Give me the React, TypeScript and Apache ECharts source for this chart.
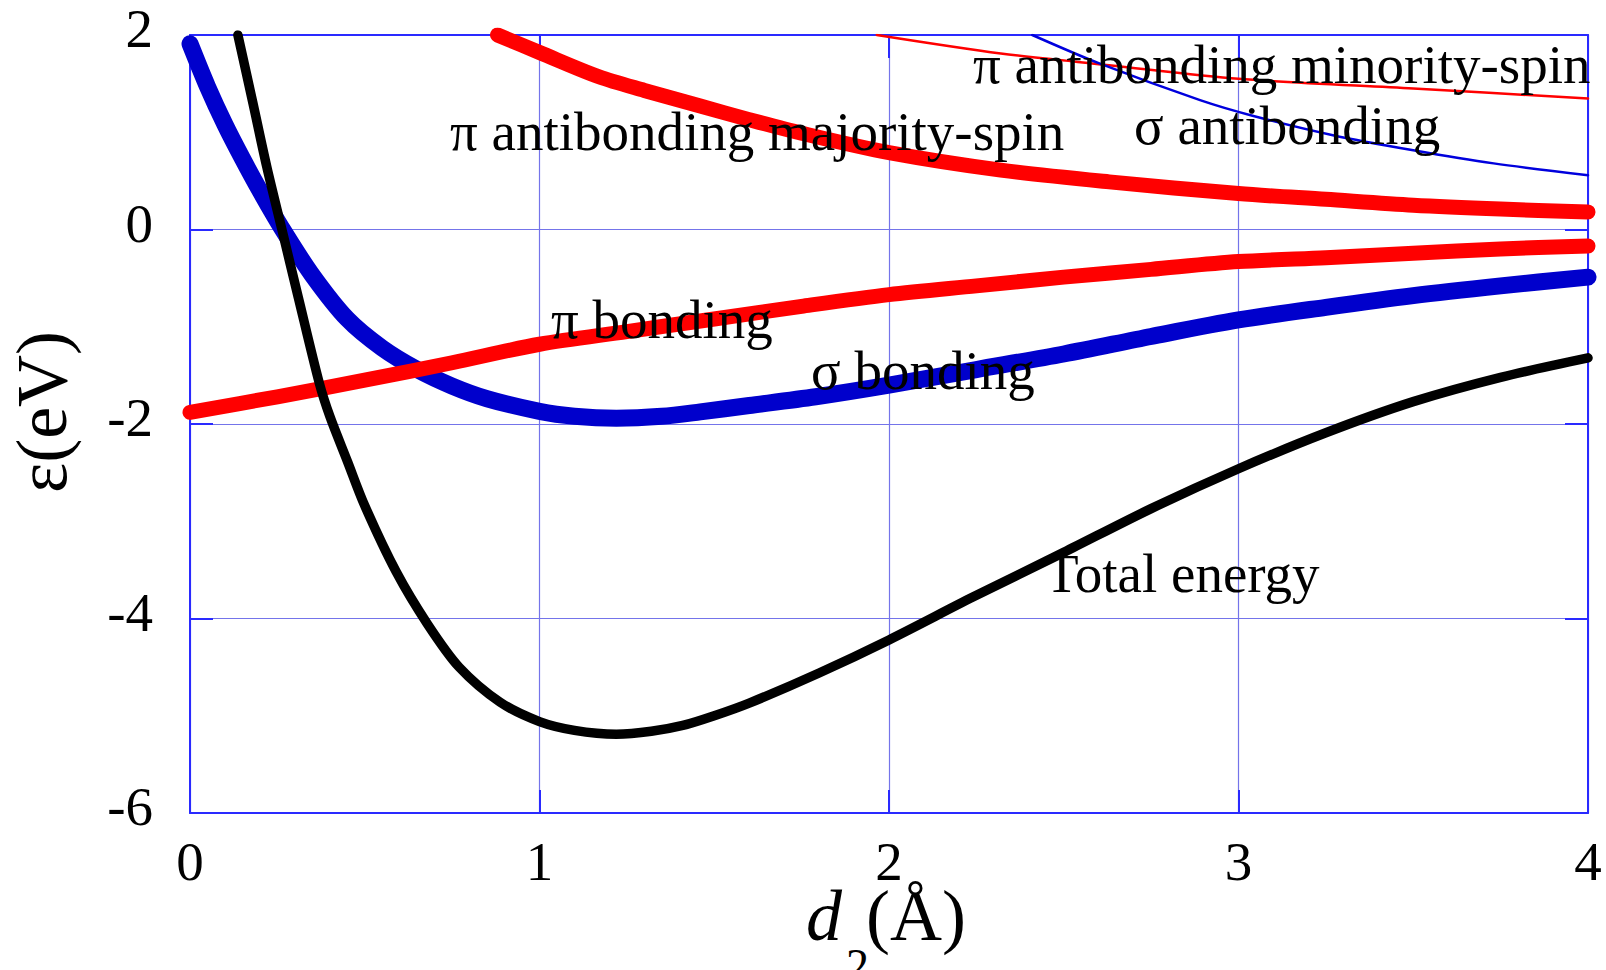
import React, { useEffect, useRef } from "react";
import * as echarts from "echarts";

// ---- data (d2 in Å, energies in eV) ----
const xTicks = [0, 1, 2, 3, 4];
const yTicks = [-6, -4, -2, 0, 2];

const sigmaBondingX = [0, 0.05, 0.1, 0.15, 0.2, 0.265, 0.35, 0.45, 0.55, 0.65, 0.75, 0.85, 1.0, 1.1, 1.22, 1.35, 1.46, 1.6, 1.79, 2.0, 2.25, 2.5, 2.75, 3.0, 3.25, 3.5, 3.75, 4.0];
const sigmaBondingY = [1.91, 1.47, 1.08, 0.73, 0.4, 0.0, -0.47, -0.92, -1.22, -1.44, -1.61, -1.74, -1.87, -1.92, -1.94, -1.92, -1.875, -1.81, -1.72, -1.6, -1.44, -1.28, -1.1, -0.93, -0.8, -0.68, -0.58, -0.49];

const piBondingX = [0, 0.25, 0.5, 0.75, 1.0, 1.25, 1.5, 1.75, 2.0, 2.25, 2.5, 2.75, 3.0, 3.25, 3.5, 3.75, 4.0];
const piBondingY = [-1.88, -1.72, -1.55, -1.37, -1.18, -1.05, -0.92, -0.79, -0.67, -0.58, -0.49, -0.41, -0.33, -0.29, -0.245, -0.2, -0.17];

const piAntiMajorityX = [0.88, 1.0, 1.17, 1.3, 1.46, 1.6, 1.75, 2.0, 2.32, 2.63, 3.0, 3.25, 3.5, 3.75, 4.0];
const piAntiMajorityY = [2.0, 1.82, 1.57, 1.43, 1.27, 1.13, 0.99, 0.79, 0.61, 0.49, 0.37, 0.31, 0.25, 0.21, 0.18];

const piAntiMinorityX = [1.965, 2.32, 2.63, 3.0, 3.5, 4.0];
const piAntiMinorityY = [2.0, 1.81, 1.69, 1.55, 1.45, 1.347];

const sigmaAntiX = [2.41, 2.6, 2.89, 3.04, 3.27, 3.5, 3.73, 4.0];
const sigmaAntiY = [2.0, 1.71, 1.33, 1.17, 0.97, 0.815, 0.68, 0.558];

const totalEnergyX = [0.137, 0.18, 0.22, 0.263, 0.31, 0.37, 0.4, 0.45, 0.5, 0.59, 0.68, 0.77, 0.887, 1.0, 1.1, 1.22, 1.32, 1.41, 1.5, 1.6, 1.8, 2.0, 2.24, 2.5, 2.75, 3.0, 3.25, 3.5, 3.75, 4.0];
const totalEnergyY = [2.0, 1.3, 0.64, 0.0, -0.7, -1.58, -1.92, -2.38, -2.84, -3.52, -4.06, -4.5, -4.86, -5.06, -5.15, -5.19, -5.16, -5.1, -5.0, -4.87, -4.56, -4.22, -3.78, -3.32, -2.87, -2.46, -2.09, -1.77, -1.52, -1.32];

const curveLabels = [
  "π antibonding minority-spin",
  "σ antibonding",
  "π antibonding majority-spin",
  "π bonding",
  "σ bonding",
  "Total energy",
];

const zip = (xs: number[], ys: number[]) => xs.map((x, i) => [x, ys[i]]);

const FONT = "Liberation Serif";
const FRAME = "#2a2aff";
const GRIDC = "#7474ea";

function lineSeries(name: string, xs: number[], ys: number[], color: string, width: number, z: number) {
  return {
    name,
    type: "line",
    data: zip(xs, ys),
    showSymbol: false,
    symbol: "none",
    smooth: 0.3,
    z,
    lineStyle: { color, width, cap: "round", join: "round" },
  };
}

function frameAxis(pos: string, isX: boolean, primary: boolean) {
  const base: any = {
    type: "value",
    position: pos,
    min: isX ? xTicks[0] : yTicks[0],
    max: isX ? xTicks[xTicks.length - 1] : yTicks[yTicks.length - 1],
    interval: isX ? 1 : 2,
    axisLine: { show: true, onZero: false, lineStyle: { color: FRAME, width: 2 } },
    axisTick: { show: true, inside: true, length: 23, lineStyle: { color: FRAME, width: 2 } },
    splitLine: { show: primary, lineStyle: { color: GRIDC, width: 1.2 } },
    axisLabel: { show: false },
  };
  if (primary) {
    base.axisLabel = isX
      ? { show: true, margin: 21, color: "#000", fontFamily: FONT, fontSize: 55, showMinLabel: true, showMaxLabel: true }
      : { show: true, margin: 37, color: "#000", fontFamily: FONT, fontSize: 55, verticalAlign: "bottom", lineHeight: 13, showMinLabel: true, showMaxLabel: true };
  }
  return base;
}

function txt(text: string, x: number, y: number, size: number, extra: any = {}) {
  return {
    type: "text",
    x,
    y,
    z: 100,
    silent: true,
    ...extra,
    style: {
      text,
      fill: "#000",
      fontFamily: FONT,
      fontSize: size,
      fontStyle: extra.fontStyle || "normal",
      align: extra.align || "left",
      textAlign: extra.align || "left",
      verticalAlign: "middle",
      textVerticalAlign: "middle",
    },
  };
}

export default function App() {
  const ref = useRef<HTMLDivElement>(null);
  useEffect(() => {
    document.body.style.margin = "0";
    const chart = echarts.init(ref.current!, null, { renderer: "svg" });
    const option: any = {
      animation: false,
      backgroundColor: "#fff",
      grid: { left: 190, top: 35, right: 18, bottom: 157, containLabel: false },
      xAxis: [frameAxis("bottom", true, true), frameAxis("top", true, false)],
      yAxis: [frameAxis("left", false, true), frameAxis("right", false, false)],
      series: [
        lineSeries("σ bonding", sigmaBondingX, sigmaBondingY, "#0000cc", 17, 2),
        lineSeries("π bonding", piBondingX, piBondingY, "#ff0000", 15, 3),
        lineSeries("π antibonding majority-spin", piAntiMajorityX, piAntiMajorityY, "#ff0000", 15, 3),
        lineSeries("π antibonding minority-spin", piAntiMinorityX, piAntiMinorityY, "#ff0000", 2.5, 4),
        lineSeries("σ antibonding", sigmaAntiX, sigmaAntiY, "#0000dd", 2.5, 4),
        lineSeries("Total energy", totalEnergyX, totalEnergyY, "#000000", 9.5, 5),
      ],
      graphic: [
        txt(curveLabels[0], 973, 82 - 18, 55),
        txt(curveLabels[1], 1134, 143 - 18, 55),
        txt(curveLabels[2], 450, 149 - 18, 55),
        txt(curveLabels[3], 551, 337 - 18, 55),
        txt(curveLabels[4], 811, 388 - 18, 55),
        txt(curveLabels[5], 1045, 591 - 18, 55),
        txt("ε(eV)", 42, 412, 72, { rotation: Math.PI / 2, align: "center" }),
        txt("d", 806, 916, 72, { fontStyle: "italic" }),
        txt("2", 846, 965, 46),
        txt("(Å)", 866, 916, 72),
      ],
    };
    chart.setOption(option);
    return () => chart.dispose();
  }, []);
  return <div ref={ref} style={{ position: "absolute", left: 0, top: 0, width: 1606, height: 970 }} />;
}
